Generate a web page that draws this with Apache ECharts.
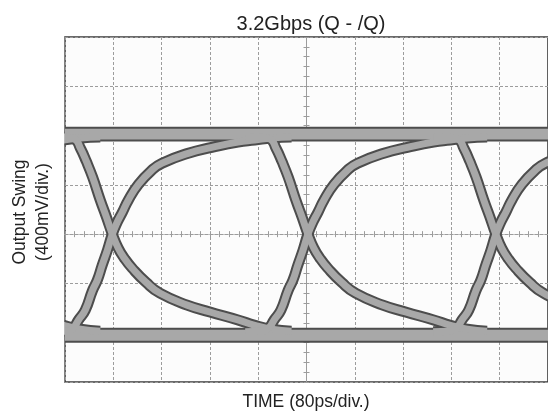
<!DOCTYPE html>
<html>
<head>
<meta charset="utf-8">
<script src="https://cdn.jsdelivr.net/npm/echarts@6/dist/echarts.min.js"></script>
<style>
html,body{margin:0;padding:0;background:#fff;}
#chart{width:548px;height:415px;}
</style>
</head>
<body>
<div id="chart"></div>
<script>
// Axis extents in divisions (80 ps/div horizontally, 400 mV/div vertically)
var X_MIN = -5, X_MAX = 5;
var Y_MIN = -3, Y_MAX = 4;

// Times (div) where the edges cross the eye centre
var crossings = [-7.98, -4.02, 0.03, 3.92];

// Falling edge: time offset from crossing (div) / level (div)
var fallDt = [-1.30, -0.99, -0.78, -0.66, -0.54, -0.41, -0.25, -0.12, 0, 0.12, 0.25, 0.41, 0.70, 0.99, 1.55, 2.02, 2.60, 2.95, 3.30, 3.71];
var fallV  = [ 1.98,  1.97,  1.93,  1.74,  1.48,  1.16,  0.69,  0.34, 0, -0.28, -0.49, -0.69, -0.98, -1.20, -1.44, -1.58, -1.74, -1.85, -1.93, -1.97];

// Rising edge
var riseDt = [-1.30, -0.99, -0.82, -0.70, -0.56, -0.41, -0.31, -0.21, -0.10, 0, 0.10, 0.21, 0.33, 0.54, 0.82, 1.03, 1.57, 2.06, 2.60, 2.95, 3.30, 3.71];
var riseV  = [-1.98, -1.97, -1.91, -1.74, -1.54, -1.14, -0.93, -0.63, -0.32, 0, 0.24, 0.45, 0.69, 1.01, 1.30, 1.44, 1.64, 1.76, 1.87, 1.91, 1.95, 1.97];

// Logic levels (each band holds two overlapping traces)
var highLevels = [2.08, 1.98];
var lowLevels  = [-2.00, -2.10];

var DARK = '#4d4d4d', LIGHT = '#a8a8a8';

function edge(c, dts, vs) {
  return dts.map(function (d, i) { return [c + d, vs[i]]; });
}
var darkSeries = [], lightSeries = [];
function addTrace(data, darkW, lightW) {
  darkSeries.push({type:'line', data:data, symbol:'none', showSymbol:false, smooth:true, silent:true, z:2,
               lineStyle:{color:DARK, width:darkW}});
  lightSeries.push({type:'line', data:data, symbol:'none', showSymbol:false, smooth:true, silent:true, z:3,
               lineStyle:{color:LIGHT, width:lightW}});
}
highLevels.forEach(function (v) { addTrace([[X_MIN, v], [X_MAX, v]], 10, 6); });
lowLevels.forEach(function (v) { addTrace([[X_MIN, v], [X_MAX, v]], 10, 6); });
crossings.forEach(function (c) {
  addTrace(edge(c, fallDt, fallV), 11, 7);
  addTrace(edge(c, riseDt, riseV), 11, 7);
});
var series = darkSeries.concat(lightSeries);

var gridLine = {show:true, lineStyle:{color:'#9c9c9c', width:1, type:[3,2]}};
var centreLine = {show:true, onZero:true, lineStyle:{color:'#9c9c9c', width:1, type:[3,2]}};
var tick = {show:true, length:3, inside:false, lineStyle:{color:'#9c9c9c'}};
var minor = {show:true, splitNumber:5, length:3, lineStyle:{color:'#9c9c9c'}};

function xAx(pos, split) {
  return {type:'value', min:X_MIN, max:X_MAX, interval:1, position:pos, gridIndex:0,
          axisLine:centreLine, axisTick:tick, minorTick:minor, axisLabel:{show:false},
          splitLine: split ? gridLine : {show:false}};
}
function yAx(pos, split) {
  return {type:'value', min:Y_MIN, max:Y_MAX, interval:1, position:pos, gridIndex:0,
          axisLine:centreLine, axisTick:tick, minorTick:minor, axisLabel:{show:false},
          splitLine: split ? gridLine : {show:false}};
}

var FONT = '"Liberation Sans", Arial, sans-serif';
var chart = echarts.init(document.getElementById('chart'));
chart.setOption({
  animation:false,
  backgroundColor:'#ffffff',
  title:{text:'3.2Gbps (Q - /Q)', left:306, top:9, textAlign:'center',
         textStyle:{fontFamily:FONT, fontSize:20, fontWeight:'normal', color:'#222'}},
  grid:{left:65, top:37, right:-2, bottom:33, show:true, borderColor:'#3a3a3a', borderWidth:1.6, backgroundColor:'#fcfcfc'},
  xAxis:[xAx('bottom', true), xAx('top', false)],
  yAxis:[yAx('left', true), yAx('right', false)],
  graphic:[
    // white margin mask so thick traces do not bleed past the left frame
    {type:'rect', shape:{x:52, y:37, width:12.2, height:345}, style:{fill:'#ffffff'}, z:100},
    {type:'text', x:306, y:402, z:101,
      style:{text:'TIME (80ps/div.)', textAlign:'center', textVerticalAlign:'middle',
      font:'17.5px ' + FONT, fill:'#222'}},
    {type:'text', rotation:Math.PI/2, x:31.5, y:212, z:101,
      style:{text:'Output Swing\n(400mV/div.)', textAlign:'center', textVerticalAlign:'middle',
        font:'17.5px ' + FONT, lineHeight:23, fill:'#222'}}
  ],
  series:series
});
</script>
</body>
</html>
